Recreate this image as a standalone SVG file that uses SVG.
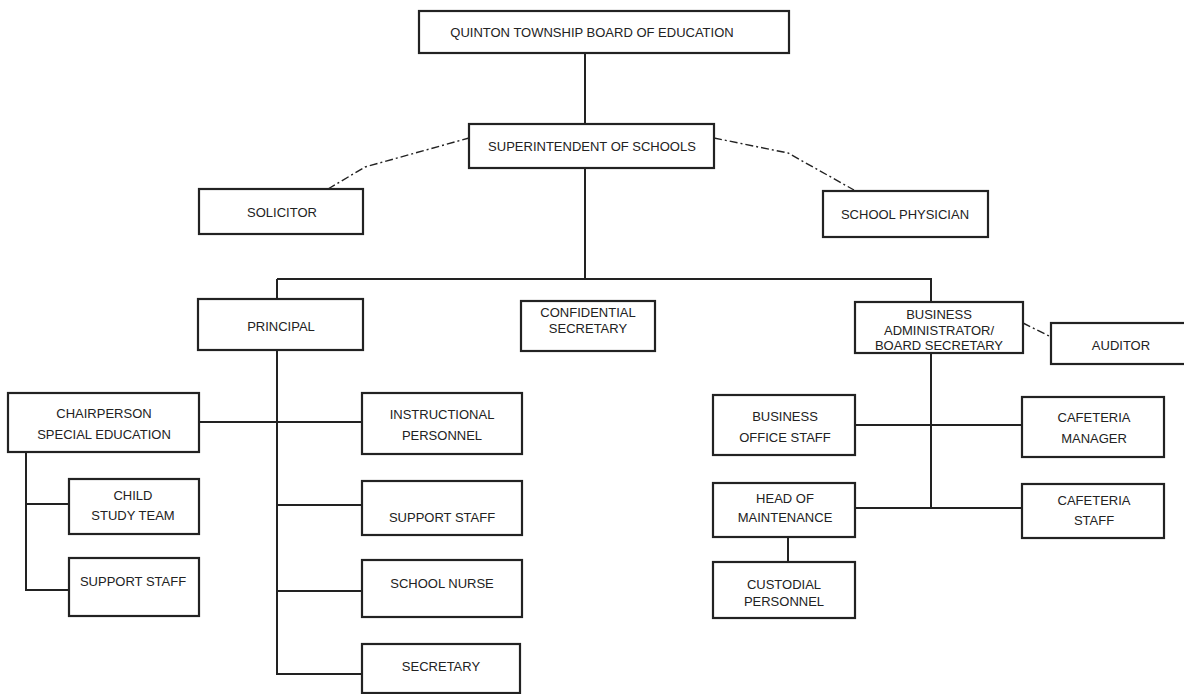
<svg xmlns="http://www.w3.org/2000/svg" width="1184" height="694" viewBox="0 0 1184 694">
<style>
.b{fill:#fff;stroke:#222;stroke-width:2.2}
.t{font-family:"Liberation Sans",Arial,sans-serif;font-size:13px;fill:#222;text-anchor:middle}
.c{fill:none;stroke:#222;stroke-width:2}
.d{fill:none;stroke:#222;stroke-width:1.4;stroke-dasharray:8 3 2 3}
</style>
<rect width="1184" height="694" fill="#fff"/>
<g id="connectors">
<path class="c" d="M585 53V124M585 168V279M277 279H931V302M277 279V299M277 350V674H362M199 422H362M277 505H362M277 591H362"/>
<path class="c" d="M26 452V590H69M26 504H69"/>
<path class="c" d="M931 353V508M855 425H1022M855 508H1022M788 537V562"/>
<path class="d" d="M328 189L365 167L469 138"/>
<path class="d" d="M714 138L788 153L854 190"/>
<path class="d" d="M1023 323L1051 337"/>
</g>
<g id="board"><rect class="b" x="419" y="11" width="370" height="42"/><text class="t" x="592" y="37">QUINTON TOWNSHIP BOARD OF EDUCATION</text></g>
<g id="superintendent"><rect class="b" x="469" y="124" width="245" height="44"/><text class="t" x="592" y="151">SUPERINTENDENT OF SCHOOLS</text></g>
<g id="solicitor"><rect class="b" x="199" y="189" width="164" height="45"/><text class="t" x="282" y="217">SOLICITOR</text></g>
<g id="physician"><rect class="b" x="823" y="191" width="165" height="46"/><text class="t" x="905" y="219">SCHOOL PHYSICIAN</text></g>
<g id="principal"><rect class="b" x="198" y="299" width="165" height="51"/><text class="t" x="281" y="331">PRINCIPAL</text></g>
<g id="confidential"><rect class="b" x="521" y="301" width="134" height="50"/><text class="t" x="588" y="317">CONFIDENTIAL</text><text class="t" x="588" y="333">SECRETARY</text></g>
<g id="business-admin"><rect class="b" x="855" y="302" width="168" height="51"/><text class="t" x="939" y="319">BUSINESS</text><text class="t" x="939" y="335">ADMINISTRATOR/</text><text class="t" x="939" y="350">BOARD SECRETARY</text></g>
<g id="auditor"><rect class="b" x="1051" y="323" width="140" height="41"/><text class="t" x="1121" y="350">AUDITOR</text></g>
<g id="chairperson"><rect class="b" x="8" y="393" width="191" height="59"/><text class="t" x="104" y="418">CHAIRPERSON</text><text class="t" x="104" y="439">SPECIAL EDUCATION</text></g>
<g id="child-study"><rect class="b" x="69" y="479" width="130" height="55"/><text class="t" x="133" y="500">CHILD</text><text class="t" x="133" y="520">STUDY TEAM</text></g>
<g id="support-left"><rect class="b" x="69" y="558" width="130" height="58"/><text class="t" x="133" y="586">SUPPORT STAFF</text></g>
<g id="instructional"><rect class="b" x="362" y="393" width="160" height="61"/><text class="t" x="442" y="419">INSTRUCTIONAL</text><text class="t" x="442" y="440">PERSONNEL</text></g>
<g id="support-right"><rect class="b" x="362" y="481" width="160" height="54"/><text class="t" x="442" y="522">SUPPORT STAFF</text></g>
<g id="nurse"><rect class="b" x="362" y="560" width="160" height="57"/><text class="t" x="442" y="588">SCHOOL NURSE</text></g>
<g id="secretary"><rect class="b" x="362" y="644" width="158" height="49"/><text class="t" x="441" y="671">SECRETARY</text></g>
<g id="business-office"><rect class="b" x="713" y="395" width="142" height="60"/><text class="t" x="785" y="421">BUSINESS</text><text class="t" x="785" y="442">OFFICE STAFF</text></g>
<g id="head-maintenance"><rect class="b" x="713" y="483" width="142" height="54"/><text class="t" x="785" y="503">HEAD OF</text><text class="t" x="785" y="522">MAINTENANCE</text></g>
<g id="custodial"><rect class="b" x="713" y="562" width="142" height="56"/><text class="t" x="784" y="589">CUSTODIAL</text><text class="t" x="784" y="606">PERSONNEL</text></g>
<g id="cafeteria-manager"><rect class="b" x="1022" y="397" width="142" height="60"/><text class="t" x="1094" y="422">CAFETERIA</text><text class="t" x="1094" y="443">MANAGER</text></g>
<g id="cafeteria-staff"><rect class="b" x="1022" y="484" width="142" height="54"/><text class="t" x="1094" y="505">CAFETERIA</text><text class="t" x="1094" y="525">STAFF</text></g>
</svg>
